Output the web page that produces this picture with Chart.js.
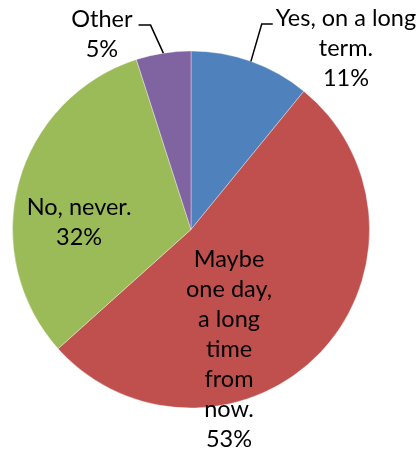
<!DOCTYPE html>
<html>
<head>
<meta charset="utf-8">
<script src="https://cdn.jsdelivr.net/npm/chart.js@4.4.0/dist/chart.umd.min.js"></script>
<style>
    html, body { margin: 0; padding: 0; background: #fff; }
    #wrap { width: 418px; height: 453px; position: relative; }
</style>
</head>
<body>
<div id="wrap"><canvas id="pieChart"></canvas></div>
<script>
const categories = [
    ["Yes, on a long", "term."],
    ["Maybe", "one day,", "a long", "time", "from", "now."],
    ["No, never."],
    ["Other"]
];
const percents = [11, 53, 32, 5];
const sliceColors = ['#4F81BD', '#C0504D', '#9BBB59', '#8064A2'];

// where each label block sits, in units of the pie radius from the centre
// (x of the block centre, y of the first baseline); leader = draw a line to the rim
const labelPlacement = [
    { dx: 0.868, dy: -1.140, leader: 'left' },
    { dx: 0.213, dy: 0.210 },
    { dx: -0.627, dy: -0.081 },
    { dx: -0.499, dy: -1.134, leader: 'right' }
];

const FONT_SIZE = 23.5;
const LINE_H = 30;
const FONT = FONT_SIZE + 'px Lato, "Open Sans", sans-serif';

const pieLabels = {
    id: 'pieLabels',
    afterDatasetsDraw(chart) {
        const ctx = chart.ctx;
        const meta = chart.getDatasetMeta(0);
        ctx.save();
        ctx.font = FONT;
        ctx.fillStyle = '#000';
        ctx.textAlign = 'center';
        ctx.textBaseline = 'alphabetic';
        meta.data.forEach((arc, i) => {
            const r = arc.outerRadius;
            const p = labelPlacement[i];
            const lines = categories[i].concat([percents[i] + '%']);
            const bx = arc.x + p.dx * r;
            const by = arc.y + p.dy * r;
            lines.forEach((t, k) => ctx.fillText(t, bx, by + k * LINE_H));

            if (p.leader) {
                const mid = (arc.startAngle + arc.endAngle) / 2;
                const ex = arc.x + Math.cos(mid) * r;
                const ey = arc.y + Math.sin(mid) * r;
                const w = ctx.measureText(lines[0]).width;
                const ly = by - 2;
                let sx, kx;
                if (p.leader === 'left') {
                    sx = bx - w / 2 - 3;
                    kx = sx - 11;
                } else {
                    sx = bx + w / 2 + 6;
                    kx = sx + 12;
                }
                ctx.beginPath();
                ctx.strokeStyle = '#000';
                ctx.lineWidth = 1.5;
                ctx.moveTo(sx, ly);
                ctx.lineTo(kx, ly);
                ctx.lineTo(ex, ey);
                ctx.stroke();
            }
        });
        ctx.restore();
    }
};

new Chart(document.getElementById('pieChart'), {
    type: 'pie',
    data: {
        labels: categories.map(c => c.join(' ')),
        datasets: [{
            data: percents,
            backgroundColor: sliceColors,
            borderColor: 'rgba(255,255,255,0.35)',
            borderWidth: 1,
            hoverOffset: 0
        }]
    },
    options: {
        responsive: true,
        maintainAspectRatio: false,
        animation: false,
        layout: {
            padding: { left: 12, right: 48, top: 50, bottom: 44 }
        },
        plugins: {
            legend: { display: false },
            tooltip: { enabled: false }
        }
    },
    plugins: [pieLabels]
});
</script>
</body>
</html>
